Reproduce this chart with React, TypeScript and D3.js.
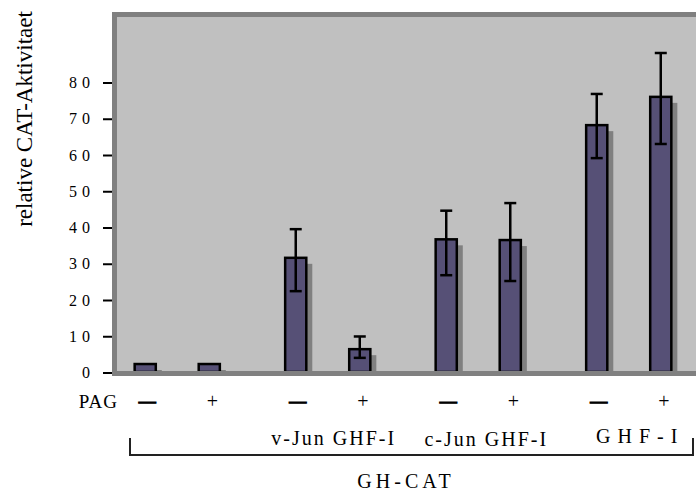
import React, { useEffect, useRef } from 'react';
import * as d3 from 'd3';

const groups = ['GH-CAT', 'v-Jun GHF-I', 'c-Jun GHF-I', 'GHF-I'];
const pag = ['−', '+'];
const means = [2.2, 2.2, 31.5, 6.3, 36.6, 36.4, 68.1, 75.9];
const errHigh = [null, null, 39.4, 9.8, 44.5, 46.6, 76.7, 88.0];
const errLow = [null, null, 22.3, 3.9, 26.7, 25.1, 59.0, 62.9];
const yTicks = [0, 10, 20, 30, 40, 50, 60, 70, 80];

const W = 696;
const H = 491;
const serif = 'Liberation Serif, Times New Roman, serif';

const App: React.FC = () => {
  const svgRef = useRef<SVGSVGElement>(null);

  useEffect(() => {
    if (!svgRef.current) return;
    const svg = d3.select(svgRef.current);
    svg.selectAll('*').remove();

    const y = d3.scaleLinear().domain([0, 80]).range([372, 82]);
    const x0 = d3.scaleBand<string>().domain(groups).range([102, 704]);
    const x1 = d3.scaleBand<string>().domain(pag)
      .range([0, x0.bandwidth()])
      .paddingInner(0.67)
      .paddingOuter(0.51);

    const rows = means.map((v, i) => ({
      group: groups[Math.floor(i / 2)],
      sign: pag[i % 2],
      v,
      hi: errHigh[i],
      lo: errLow[i],
    }));
    const bx = (d: any) => (x0(d.group) as number) + (x1(d.sign) as number);
    const bw = x1.bandwidth();

    // plot area
    svg.append('rect')
      .attr('x', 112).attr('y', 12)
      .attr('width', 600).attr('height', 364)
      .attr('fill', '#808080');
    svg.append('rect')
      .attr('x', 117).attr('y', 17)
      .attr('width', 600).attr('height', 354)
      .attr('fill', '#c0c0c0');

    // shadows
    svg.selectAll('.shadow')
      .data(rows)
      .enter().append('rect')
      .attr('x', (d) => bx(d) + 6)
      .attr('y', (d) => y(d.v) + 6)
      .attr('width', bw)
      .attr('height', (d) => Math.max(0, y(0) - y(d.v) - 6))
      .attr('fill', '#808080');

    // bars
    svg.selectAll('.bar')
      .data(rows)
      .enter().append('rect')
      .attr('x', (d) => bx(d))
      .attr('y', (d) => y(d.v))
      .attr('width', bw)
      .attr('height', (d) => y(0) - y(d.v))
      .attr('fill', '#565076')
      .attr('stroke', '#000')
      .attr('stroke-width', 2.5);

    // bottom frame over bar bases
    svg.append('rect')
      .attr('x', 112).attr('y', 371)
      .attr('width', 600).attr('height', 5)
      .attr('fill', '#808080');

    // error bars
    const eb = svg.selectAll('.err')
      .data(rows.filter((d) => d.hi != null))
      .enter().append('g')
      .attr('stroke', '#000')
      .attr('stroke-width', 2.5);
    eb.append('line')
      .attr('x1', (d) => bx(d) + bw / 2).attr('x2', (d) => bx(d) + bw / 2)
      .attr('y1', (d) => y(d.hi as number)).attr('y2', (d) => y(d.lo as number));
    eb.append('line')
      .attr('x1', (d) => bx(d) + bw / 2 - 6).attr('x2', (d) => bx(d) + bw / 2 + 6)
      .attr('y1', (d) => y(d.hi as number)).attr('y2', (d) => y(d.hi as number));
    eb.append('line')
      .attr('x1', (d) => bx(d) + bw / 2 - 6).attr('x2', (d) => bx(d) + bw / 2 + 6)
      .attr('y1', (d) => y(d.lo as number)).attr('y2', (d) => y(d.lo as number));

    // y axis ticks
    svg.selectAll('.tick')
      .data(yTicks)
      .enter().append('line')
      .attr('x1', 103).attr('x2', 112)
      .attr('y1', (d) => y(d) + 1).attr('y2', (d) => y(d) + 1)
      .attr('stroke', '#000')
      .attr('stroke-width', 2);
    svg.selectAll('.tlab')
      .data(yTicks)
      .enter().append('text')
      .attr('x', 95)
      .attr('y', (d) => y(d) + 6)
      .attr('text-anchor', 'end')
      .attr('font-family', serif)
      .attr('font-size', 16)
      .attr('letter-spacing', 5)
      .text((d) => String(d));

    svg.append('text')
      .attr('transform', 'translate(32,119) rotate(-90)')
      .attr('text-anchor', 'middle')
      .attr('font-family', serif)
      .attr('font-size', 23)
      .text('relative CAT-Aktivitaet');

    // PAG row
    svg.append('text')
      .attr('x', 118).attr('y', 408)
      .attr('text-anchor', 'end')
      .attr('font-family', serif)
      .attr('font-size', 19)
      .attr('letter-spacing', 1)
      .text('PAG');
    svg.selectAll('.sign')
      .data(rows)
      .enter().append('text')
      .attr('x', (d) => bx(d) + bw / 2 + (d.sign === '+' ? 3 : 2))
      .attr('y', (d) => (d.sign === '+' ? 408 : 407))
      .attr('text-anchor', 'middle')
      .attr('font-family', serif)
      .attr('font-size', (d) => (d.sign === '+' ? 20 : 17))
      .attr('font-weight', (d) => (d.sign === '+' ? 'normal' : 'bold'))
      .attr('stroke', (d) => (d.sign === '+' ? 'none' : '#000'))
      .attr('stroke-width', 1.2)
      .text((d) => (d.sign === '+' ? '+' : '—'));

    // group labels
    const gl = [
      { g: groups[1], t: 'v-Jun GHF-I', ls: 2, dx: 5, y: 445 },
      { g: groups[2], t: 'c-Jun GHF-I', ls: 2, dx: 7, y: 446 },
      { g: groups[3], t: 'GHF-I', ls: 7, dx: 8, y: 443 },
    ];
    svg.selectAll('.glab')
      .data(gl)
      .enter().append('text')
      .attr('x', (d) => (x0(d.g) as number) + x0.bandwidth() / 2 + d.dx + d.ls / 2)
      .attr('y', (d) => d.y)
      .attr('text-anchor', 'middle')
      .attr('font-family', serif)
      .attr('font-size', 20)
      .attr('letter-spacing', (d) => d.ls)
      .text((d) => d.t);

    // bracket
    svg.append('path')
      .attr('d', 'M130,438 V455 H693 V438')
      .attr('fill', 'none')
      .attr('stroke', '#222')
      .attr('stroke-width', 2);

    svg.append('text')
      .attr('x', 404 + 2)
      .attr('y', 488)
      .attr('text-anchor', 'middle')
      .attr('font-family', serif)
      .attr('font-size', 20)
      .attr('letter-spacing', 4)
      .text(groups[0]);
  }, []);

  return (
    <svg
      ref={svgRef}
      width={W}
      height={H}
      style={{ position: 'absolute', left: 0, top: 0, background: '#fff' }}
    />
  );
};

export default App;
